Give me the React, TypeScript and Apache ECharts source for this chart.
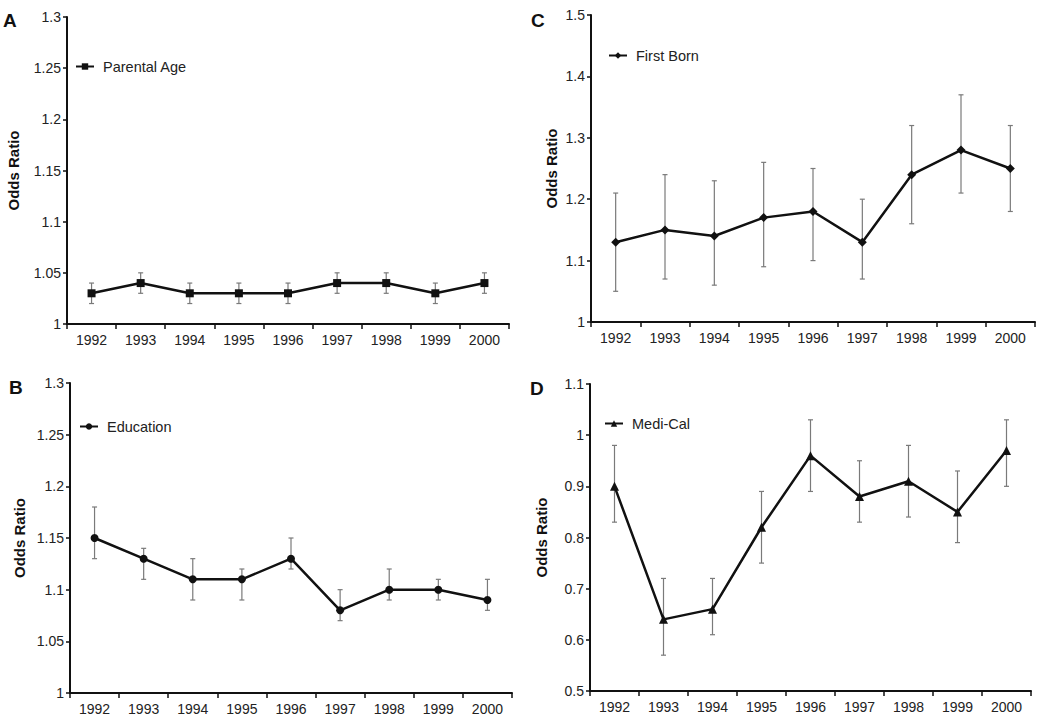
import React, { useEffect, useRef } from "react";
import * as echarts from "echarts";

const years = ["1992", "1993", "1994", "1995", "1996", "1997", "1998", "1999", "2000"];

const parentalAge = [1.03, 1.04, 1.03, 1.03, 1.03, 1.04, 1.04, 1.03, 1.04];
const parentalAgeLow = [1.02, 1.03, 1.02, 1.02, 1.02, 1.03, 1.03, 1.02, 1.03];
const parentalAgeHigh = [1.04, 1.05, 1.04, 1.04, 1.04, 1.05, 1.05, 1.04, 1.05];

const education = [1.15, 1.13, 1.11, 1.11, 1.13, 1.08, 1.1, 1.1, 1.09];
const educationLow = [1.13, 1.11, 1.09, 1.09, 1.12, 1.07, 1.09, 1.09, 1.08];
const educationHigh = [1.18, 1.14, 1.13, 1.12, 1.15, 1.1, 1.12, 1.11, 1.11];

const firstBorn = [1.13, 1.15, 1.14, 1.17, 1.18, 1.13, 1.24, 1.28, 1.25];
const firstBornLow = [1.05, 1.07, 1.06, 1.09, 1.1, 1.07, 1.16, 1.21, 1.18];
const firstBornHigh = [1.21, 1.24, 1.23, 1.26, 1.25, 1.2, 1.32, 1.37, 1.32];

const mediCal = [0.9, 0.64, 0.66, 0.82, 0.96, 0.88, 0.91, 0.85, 0.97];
const mediCalLow = [0.83, 0.57, 0.61, 0.75, 0.89, 0.83, 0.84, 0.79, 0.9];
const mediCalHigh = [0.98, 0.72, 0.72, 0.89, 1.03, 0.95, 0.98, 0.93, 1.03];

const FONT = "'Liberation Sans', Arial, Helvetica, sans-serif";

const panels = [
  {
    letter: "A", name: "Parental Age", values: parentalAge, low: parentalAgeLow, high: parentalAgeHigh,
    symbol: "rect", symbolSize: 8, min: 1, max: 1.3, interval: 0.05,
    grid: { left: 67, top: 17, width: 442, height: 307 }, nameGap: 46,
    letterPos: [3, 11], legendPos: [75, 59],
  },
  {
    letter: "B", name: "Education", values: education, low: educationLow, high: educationHigh,
    symbol: "circle", symbolSize: 8, min: 1, max: 1.3, interval: 0.05,
    grid: { left: 70, top: 383, width: 442, height: 310 }, nameGap: 43,
    letterPos: [9, 378], legendPos: [79, 419],
  },
  {
    letter: "C", name: "First Born", values: firstBorn, low: firstBornLow, high: firstBornHigh,
    symbol: "diamond", symbolSize: 9, min: 1, max: 1.5, interval: 0.1,
    grid: { left: 591, top: 15, width: 444, height: 307 }, nameGap: 32,
    letterPos: [531, 11], legendPos: [608, 48],
  },
  {
    letter: "D", name: "Medi-Cal", values: mediCal, low: mediCalLow, high: mediCalHigh,
    symbol: "triangle", symbolSize: 9, min: 0.5, max: 1.1, interval: 0.1,
    grid: { left: 590, top: 384, width: 441, height: 307 }, nameGap: 41,
    letterPos: [530, 379], legendPos: [604, 416],
  },
];

export default function App() {
  const ref = useRef<HTMLDivElement>(null);

  useEffect(() => {
    if (!ref.current) return;
    const chart = echarts.init(ref.current, null, { renderer: "svg" });

    const grid = panels.map((p) => ({ ...p.grid, containLabel: false }));

    const xAxis = panels.map((p, i) => ({
      type: "category",
      gridIndex: i,
      data: years,
      boundaryGap: true,
      axisLine: { lineStyle: { color: "#111", width: 2 } },
      axisTick: { show: true, inside: false, length: 5, lineStyle: { color: "#111", width: 1.5 } },
      axisLabel: { color: "#222", fontSize: 14, fontFamily: FONT, margin: 9 },
      splitLine: { show: false },
    }));

    const yAxis = panels.map((p, i) => ({
      type: "value",
      gridIndex: i,
      min: p.min,
      max: p.max,
      interval: p.interval,
      name: "Odds Ratio",
      nameLocation: "middle",
      nameGap: p.nameGap,
      nameTextStyle: { color: "#111", fontSize: 15, fontWeight: "bold", fontFamily: FONT },
      axisLine: { show: true, lineStyle: { color: "#111", width: 2 } },
      axisTick: { show: true, inside: false, length: 4, lineStyle: { color: "#111", width: 1.5 } },
      axisLabel: { color: "#222", fontSize: 14, fontFamily: FONT, margin: 6 },
      splitLine: { show: false },
    }));

    const series: any[] = [];
    panels.forEach((p, i) => {
      series.push({
        type: "custom",
        name: p.name + " CI",
        xAxisIndex: i,
        yAxisIndex: i,
        z: 1,
        data: years.map((_, k) => [k, p.low[k], p.high[k]]),
        renderItem: (params: any, api: any) => {
          const lo = api.coord([api.value(0), api.value(1)]);
          const hi = api.coord([api.value(0), api.value(2)]);
          const cap = 2.5;
          const style = { stroke: "#7a7a7a", lineWidth: 1.2 };
          return {
            type: "group",
            children: [
              { type: "line", shape: { x1: lo[0], y1: lo[1], x2: hi[0], y2: hi[1] }, style },
              { type: "line", shape: { x1: lo[0] - cap, y1: lo[1], x2: lo[0] + cap, y2: lo[1] }, style },
              { type: "line", shape: { x1: hi[0] - cap, y1: hi[1], x2: hi[0] + cap, y2: hi[1] }, style },
            ],
          };
        },
      });
      series.push({
        type: "line",
        name: p.name,
        xAxisIndex: i,
        yAxisIndex: i,
        z: 3,
        data: p.values,
        symbol: p.symbol,
        symbolSize: p.symbolSize,
        showAllSymbol: true,
        lineStyle: { color: "#111", width: 2.5 },
        itemStyle: { color: "#111", borderWidth: 0 },
      });
    });

    const legend = panels.map((p) => ({
      data: [p.name],
      left: p.legendPos[0],
      top: p.legendPos[1],
      padding: 0,
      itemWidth: 18,
      itemHeight: 8,
      itemGap: 0,
      selectedMode: false,
      textStyle: { color: "#222", fontSize: 14.5, fontFamily: FONT, padding: [0, 0, 0, 4] },
    }));

    const graphic = panels.map((p) => ({
      type: "text",
      left: p.letterPos[0],
      top: p.letterPos[1],
      style: { text: p.letter, fill: "#111", fontSize: 19, fontWeight: "bold", fontFamily: FONT },
    }));

    chart.setOption({
      animation: false,
      backgroundColor: "#ffffff",
      grid,
      xAxis,
      yAxis,
      legend,
      graphic,
      series,
    });

    return () => chart.dispose();
  }, []);

  return (
    <div
      ref={ref}
      style={{ position: "fixed", left: 0, top: 0, width: 1050, height: 723, background: "#fff" }}
    />
  );
}
